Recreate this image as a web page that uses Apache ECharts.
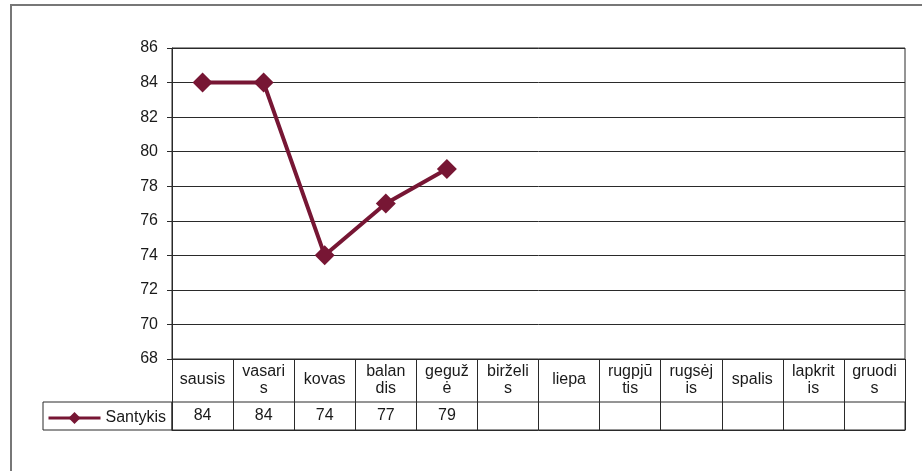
<!DOCTYPE html>
<html>
<head>
<meta charset="utf-8">
<script src="https://cdn.jsdelivr.net/npm/echarts@6/dist/echarts.min.js"></script>
<style>html,body{margin:0;padding:0;background:#fff}#c{width:922px;height:471px}</style>
</head>
<body>
<div id="c"></div>
<script>
var categories = ['sausis','vasaris','kovas','balandis','gegužė','birželis','liepa','rugpjūtis','rugsėjis','spalis','lapkritis','gruodis'];
var seriesName = 'Santykis';
var values = [84, 84, 74, 77, 79];
var yMin = 68, yMax = 86, yStep = 2;

var FONT = 'Liberation Sans';
var FS = 16;
var lineCol = '#771634';
var gridCol = '#2a2a2a';
var textCol = '#1a1a1a';

var mctx = document.createElement('canvas').getContext('2d');
mctx.font = FS + 'px "' + FONT + '"';
function wrapCell(s, maxW) {
  var lines = [], cur = '';
  Array.from(s).forEach(function (ch) {
    if (cur && mctx.measureText(cur + ch).width > maxW) { lines.push(cur); cur = ch; }
    else { cur += ch; }
  });
  lines.push(cur);
  return lines.join('\n');
}

var chart = echarts.init(document.getElementById('c'));
chart.setOption({
  animation: false,
  backgroundColor: '#fff',
  grid: [
    {left: 172, top: 48, width: 733, height: 311, show: true, borderColor: gridCol, borderWidth: 1, containLabel: false},
    {left: 172, top: 402, width: 733, height: 28, show: true, borderColor: gridCol, borderWidth: 1, containLabel: false}
  ],
  xAxis: [
    {
      type: 'category', gridIndex: 0, data: categories, boundaryGap: true,
      axisLine: {show: true, lineStyle: {color: gridCol, width: 1}},
      axisTick: {show: true, interval: 0, length: 43, lineStyle: {color: gridCol, width: 1}},
      splitLine: {show: false},
      axisLabel: {interval: 0, margin: 21, verticalAlign: 'middle',
        fontFamily: FONT, fontSize: FS, lineHeight: 17, color: textCol, align: 'center',
        formatter: function (v) { return wrapCell(v, 45.8); }}
    },
    {
      type: 'category', gridIndex: 1, data: categories, boundaryGap: true,
      axisLine: {show: true, lineStyle: {color: gridCol, width: 1}},
      axisTick: {show: false},
      splitLine: {show: true, interval: 0, lineStyle: {color: gridCol, width: 1}},
      axisLabel: {interval: 0, inside: true, margin: 14, verticalAlign: 'middle',
        fontFamily: FONT, fontSize: FS, color: textCol,
        formatter: function (v, i) { return values[i] != null ? String(values[i]) : ''; }}
    }
  ],
  yAxis: [
    {
      type: 'value', gridIndex: 0, min: yMin, max: yMax, interval: yStep,
      axisLine: {show: true, lineStyle: {color: gridCol, width: 1}},
      axisTick: {show: true, length: 5, lineStyle: {color: gridCol, width: 1}},
      splitLine: {show: true, lineStyle: {color: gridCol, width: 1}},
      axisLabel: {margin: 14, fontFamily: FONT, fontSize: FS, color: textCol}
    },
    {type: 'value', gridIndex: 1, show: false}
  ],
  legend: {
    data: [seriesName], left: 42, top: 405, itemWidth: 52, itemHeight: 15,
    lineStyle: {width: 3},
    textStyle: {fontFamily: FONT, fontSize: FS, color: textCol}, itemGap: 4
  },
  graphic: [
    {type: 'rect', shape: {x: 11, y: 5, width: 1000, height: 1000}, style: {fill: 'none', stroke: '#777', lineWidth: 2}, silent: true},
    {type: 'rect', shape: {x: 43, y: 402, width: 129, height: 28}, style: {fill: 'none', stroke: gridCol, lineWidth: 1}, silent: true}
  ],
  series: [
    {
      name: seriesName, type: 'line', xAxisIndex: 0, yAxisIndex: 0, data: values,
      symbol: 'diamond', symbolSize: 20,
      lineStyle: {color: lineCol, width: 4},
      itemStyle: {color: lineCol}
    }
  ]
});
</script>
</body>
</html>
